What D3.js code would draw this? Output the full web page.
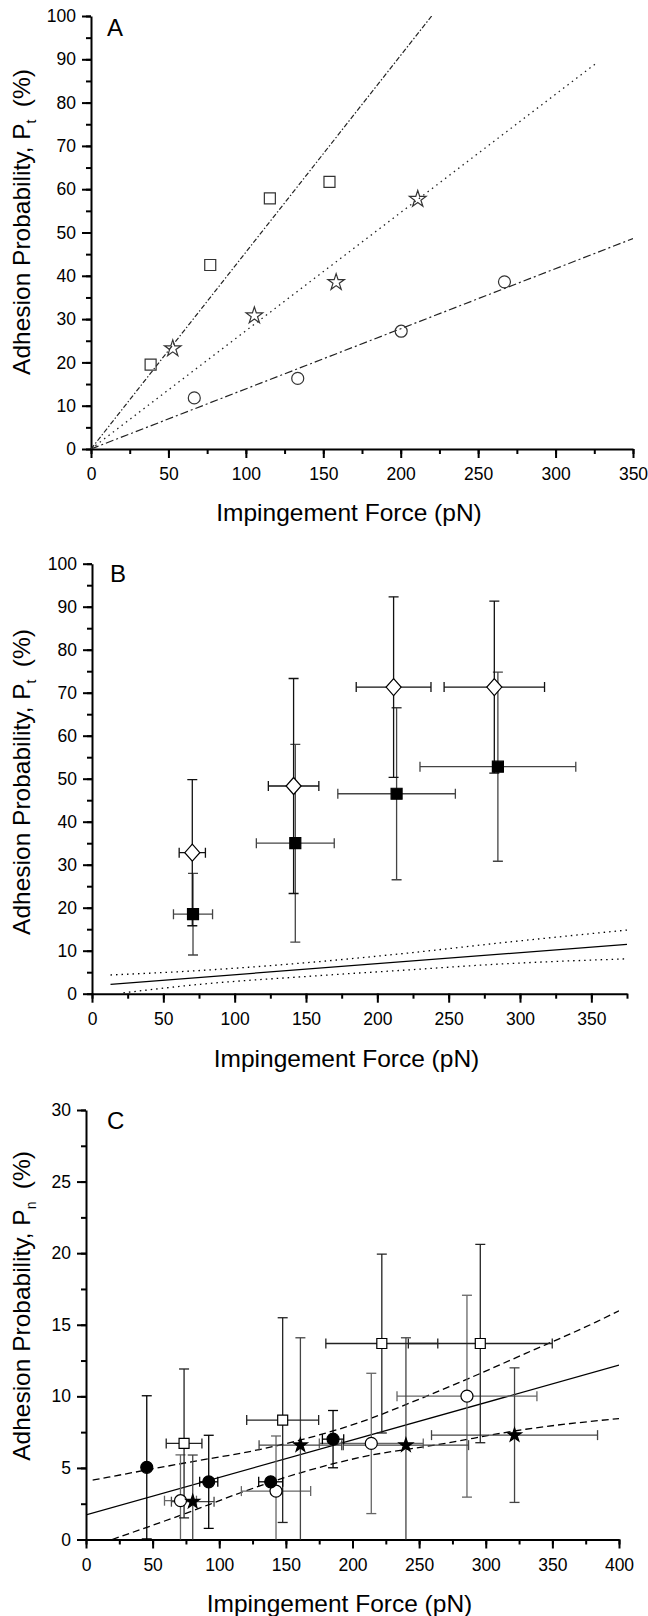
<!DOCTYPE html>
<html>
<head>
<meta charset="utf-8">
<script src="https://cdn.jsdelivr.net/npm/d3@7"></script>
<style>
  body { margin: 0; background: #fff; }
  svg { display: block; }
  text { font-family: "Liberation Sans", Arial, sans-serif; }
</style>
</head>
<body>
<svg id="fig" width="648" height="1616"></svg>
<script>
// ---------- data: panel A ----------
const aSquareX = [38.5, 77, 115.5, 154];
const aSquareY = [19.5, 42.5, 57.9, 61.7];
const aStarX = [52.8, 105.5, 158.3, 211];
const aStarY = [23.2, 30.8, 38.5, 57.7];
const aCircleX = [66.7, 133.5, 200.3, 267];
const aCircleY = [11.8, 16.3, 27.2, 38.6];
const aFitSquares = [[0, 0], [220, 100]];
const aFitStars = [[0, 0], [327, 89.3]];
const aFitCircles = [[0, 0], [350, 48.6]];

// ---------- data: panel B ----------
const bDiamondX = [70.3, 141.3, 211.4, 282];
const bDiamondY = [32.8, 48.3, 71.3, 71.3];
const bDiamondXErr = [9.2, 17.7, 26.2, 35.2];
const bDiamondYErr = [17, 25, 21, 20];
const bSquareX = [70.8, 142.5, 213.5, 284.5];
const bSquareY = [18.5, 35, 46.5, 52.8];
const bSquareXErr = [13.7, 27.3, 41.2, 54.6];
const bSquareYErr = [9.5, 23, 20, 22];
const bFit = [[13, 2.19], [375, 11.46]];
const bUpper = [[13, 4.35], [76, 5.4], [150, 7.2], [220, 9.4], [286, 11.8], [375, 14.8]];
const bLower = [[22, 0.2], [76, 2.19], [150, 4.0], [220, 5.5], [286, 6.9], [375, 8.1]];

// ---------- data: panel C ----------
const cFilledX = [45.6, 92.1, 138.6, 185.4];
const cFilledY = [5.04, 4.03, 4.03, 7.01];
const cFilledXErr = [0, 6.8, 9, 8];
const cFilledYErr = [5.0, 3.25, 0, 2.0];
const cOpenCircleX = [70.9, 142.6, 214.1, 285.9];
const cOpenCircleY = [2.71, 3.38, 6.71, 10.01];
const cOpenCircleXErr = [12, 26, 39, 52.5];
const cOpenCircleYErr = [3.2, 3.85, 4.9, 7.05];
const cSquareX = [73.6, 147.6, 222, 295.9];
const cSquareY = [6.71, 8.34, 13.69, 13.69];
const cSquareXErr = [13.4, 27, 42, 54];
const cSquareYErr = [5.2, 7.15, 6.25, 6.93];
const cStarX = [80.1, 160.9, 240.1, 321.6];
const cStarY = [2.64, 6.59, 6.59, 7.29];
const cStarXErr = [16, 31, 47, 62.3];
const cStarYErr = [3.26, 7.5, 7.5, 4.7];
const cFit = [[0, 1.72], [400, 12.18]];
const cUpper = [[5, 4.15], [75, 5.36], [131, 6.3], [175, 7.3], [206, 8.2], [250, 9.8], [281, 11.0], [330, 13.0], [383, 15.2], [400, 15.97]];
const cLower = [[19.6, 0], [75, 1.83], [117, 3.3], [150, 4.35], [206, 5.74], [266, 6.66], [330, 7.7], [400, 8.45]];

const svg = d3.select("#fig");
const tickFont = 17.5;
const titleFont = 24.5;

// =============================== //
// -->      panel frame       <--  //
// =============================== //
function drawPanel({ id, left, right, top, bottom, xMax, yMax, xMajor, xMinor, yMajor, yMinor, letter, letterPos, sub, yLabelY, xLabelY }) {
  const x = d3.scaleLinear().domain([0, xMax]).range([left, right]);
  const y = d3.scaleLinear().domain([0, yMax]).range([bottom, top]);

  svg.append("clipPath").attr("id", id)
    .append("rect").attr("x", left).attr("y", top).attr("width", right - left).attr("height", bottom - top);

  // minor ticks
  svg.append("g").attr("transform", `translate(0,${bottom})`)
    .call(d3.axisBottom(x).tickValues(d3.range(0, xMax + 0.01, xMinor)).tickSize(5).tickFormat(""))
    .call((g) => g.select(".domain").remove())
    .call((g) => g.selectAll("line").attr("stroke-width", 2));
  svg.append("g").attr("transform", `translate(${left},0)`)
    .call(d3.axisLeft(y).tickValues(d3.range(0, yMax + 0.01, yMinor)).tickSize(5).tickFormat(""))
    .call((g) => g.select(".domain").remove())
    .call((g) => g.selectAll("line").attr("stroke-width", 2));

  // major ticks + labels
  svg.append("g").attr("transform", `translate(0,${bottom})`)
    .call(d3.axisBottom(x).tickValues(d3.range(0, xMax + 0.01, xMajor)).tickSize(9).tickSizeOuter(0).tickPadding(10))
    .call((g) => g.selectAll("line, path").attr("stroke-width", 2))
    .call((g) => g.selectAll("text").attr("font-size", tickFont).attr("font-family", "Liberation Sans, Arial, sans-serif"));
  svg.append("g").attr("transform", `translate(${left},0)`)
    .call(d3.axisLeft(y).tickValues(d3.range(0, yMax + 0.01, yMajor)).tickSize(9).tickSizeOuter(0).tickPadding(6))
    .call((g) => g.selectAll("line, path").attr("stroke-width", 2))
    .call((g) => g.selectAll("text").attr("font-size", tickFont).attr("font-family", "Liberation Sans, Arial, sans-serif"));

  // panel letter
  svg.append("text")
    .attr("x", letterPos[0]).attr("y", letterPos[1])
    .attr("font-family", "Liberation Serif, Times New Roman, serif")
    .attr("font-size", 24)
    .text(letter);

  // axis titles
  svg.append("text")
    .attr("x", (left + right) / 2 - 13).attr("y", xLabelY)
    .attr("text-anchor", "middle").attr("font-size", titleFont)
    .text("Impingement Force (pN)");

  const yl = svg.append("text")
    .attr("transform", `translate(30,${yLabelY}) rotate(-90)`)
    .attr("text-anchor", "middle").attr("font-size", titleFont);
  yl.append("tspan").text("Adhesion Probability, P");
  yl.append("tspan").attr("font-size", 14).attr("dy", 6).text(sub);
  yl.append("tspan").attr("dy", -6).text("\u2002(%)");

  const plot = svg.append("g").attr("clip-path", `url(#${id})`);
  return { x, y, plot };
}

function lineOf(x, y, curve) {
  return d3.line().x((d) => x(d[0])).y((d) => y(d[1])).curve(curve || d3.curveLinear);
}

function errorBars(g, x, y, xs, ys, xerr, yerr, color, cap) {
  xs.forEach((xv, i) => {
    const px = x(xv), py = y(ys[i]);
    if (yerr[i] > 0) {
      const y0 = y(ys[i] - yerr[i]), y1 = y(ys[i] + yerr[i]);
      g.append("line").attr("x1", px).attr("x2", px).attr("y1", y0).attr("y2", y1).attr("stroke", color).attr("stroke-width", 1.3);
      [y0, y1].forEach((yy) =>
        g.append("line").attr("x1", px - cap).attr("x2", px + cap).attr("y1", yy).attr("y2", yy).attr("stroke", color).attr("stroke-width", 1.3));
    }
    if (xerr[i] > 0) {
      const x0 = x(xv - xerr[i]), x1 = x(xv + xerr[i]);
      g.append("line").attr("x1", x0).attr("x2", x1).attr("y1", py).attr("y2", py).attr("stroke", color).attr("stroke-width", 1.3);
      [x0, x1].forEach((xx) =>
        g.append("line").attr("x1", xx).attr("x2", xx).attr("y1", py - cap).attr("y2", py + cap).attr("stroke", color).attr("stroke-width", 1.3));
    }
  });
}

function markers(g, x, y, xs, ys, pathD, fill, stroke) {
  g.selectAll(null)
    .data(xs.map((d, i) => [d, ys[i]]))
    .join("path")
    .attr("d", pathD)
    .attr("transform", (d) => `translate(${x(d[0])},${y(d[1])})`)
    .attr("fill", fill)
    .attr("stroke", stroke)
    .attr("stroke-width", 1.2);
}

const diamondPath = "M0,-8.5L7.5,0L0,8.5L-7.5,0Z";

// =============================== //
// -->         Panel A        <--  //
// =============================== //
{
  const { x, y, plot } = drawPanel({
    id: "clipA", left: 91, right: 633, top: 16, bottom: 449,
    xMax: 350, yMax: 100, xMajor: 50, xMinor: 25, yMajor: 10, yMinor: 5,
    letter: "A", letterPos: [107, 36], sub: "t", yLabelY: 222, xLabelY: 521
  });
  plot.append("path").attr("d", lineOf(x, y)(aFitSquares)).attr("fill", "none").attr("stroke", "#222").attr("stroke-width", 1.2).attr("stroke-dasharray", "5,2,1.5,2");
  plot.append("path").attr("d", lineOf(x, y)(aFitStars)).attr("fill", "none").attr("stroke", "#222").attr("stroke-width", 1.3).attr("stroke-dasharray", "1.5,4");
  plot.append("path").attr("d", lineOf(x, y)(aFitCircles)).attr("fill", "none").attr("stroke", "#222").attr("stroke-width", 1.2).attr("stroke-dasharray", "8,3,2,3");

  markers(plot, x, y, aSquareX, aSquareY, d3.symbol().type(d3.symbolSquare).size(121)(), "none", "#333");
  markers(plot, x, y, aStarX, aStarY, d3.symbol().type(d3.symbolStar).size(85)(), "none", "#333");
  markers(plot, x, y, aCircleX, aCircleY, d3.symbol().type(d3.symbolCircle).size(Math.PI * 36)(), "none", "#333");
}

// =============================== //
// -->         Panel B        <--  //
// =============================== //
{
  const { x, y, plot } = drawPanel({
    id: "clipB", left: 92, right: 627, top: 563.7, bottom: 993.7,
    xMax: 375, yMax: 100, xMajor: 50, xMinor: 25, yMajor: 10, yMinor: 5,
    letter: "B", letterPos: [110, 582], sub: "t", yLabelY: 782, xLabelY: 1067
  });
  plot.append("path").attr("d", lineOf(x, y)(bFit)).attr("fill", "none").attr("stroke", "#000").attr("stroke-width", 1.2);
  plot.append("path").attr("d", lineOf(x, y, d3.curveMonotoneX)(bUpper)).attr("fill", "none").attr("stroke", "#000").attr("stroke-width", 1.3).attr("stroke-dasharray", "1.5,4");
  plot.append("path").attr("d", lineOf(x, y, d3.curveMonotoneX)(bLower)).attr("fill", "none").attr("stroke", "#000").attr("stroke-width", 1.3).attr("stroke-dasharray", "1.5,4");

  errorBars(plot, x, y, bSquareX, bSquareY, bSquareXErr, bSquareYErr, "#444", 5);
  errorBars(plot, x, y, bDiamondX, bDiamondY, bDiamondXErr, bDiamondYErr, "#111", 5);
  markers(plot, x, y, bSquareX, bSquareY, d3.symbol().type(d3.symbolSquare).size(121)(), "#000", "#000");
  markers(plot, x, y, bDiamondX, bDiamondY, diamondPath, "#fff", "#000");
}

// =============================== //
// -->         Panel C        <--  //
// =============================== //
{
  const { x, y, plot } = drawPanel({
    id: "clipC", left: 86, right: 619, top: 1110, bottom: 1539.5,
    xMax: 400, yMax: 30, xMajor: 50, xMinor: 25, yMajor: 5, yMinor: 2.5,
    letter: "C", letterPos: [107, 1129], sub: "n", yLabelY: 1306, xLabelY: 1612
  });
  plot.append("path").attr("d", lineOf(x, y)(cFit)).attr("fill", "none").attr("stroke", "#000").attr("stroke-width", 1.3);
  plot.append("path").attr("d", lineOf(x, y, d3.curveMonotoneX)(cUpper)).attr("fill", "none").attr("stroke", "#000").attr("stroke-width", 1.3).attr("stroke-dasharray", "7,4");
  plot.append("path").attr("d", lineOf(x, y, d3.curveMonotoneX)(cLower)).attr("fill", "none").attr("stroke", "#000").attr("stroke-width", 1.3).attr("stroke-dasharray", "7,4");

  errorBars(plot, x, y, cOpenCircleX, cOpenCircleY, cOpenCircleXErr, cOpenCircleYErr, "#666", 5);
  errorBars(plot, x, y, cStarX, cStarY, cStarXErr, cStarYErr, "#444", 5);
  errorBars(plot, x, y, cSquareX, cSquareY, cSquareXErr, cSquareYErr, "#222", 5);
  errorBars(plot, x, y, cFilledX, cFilledY, cFilledXErr, cFilledYErr, "#000", 5);

  markers(plot, x, y, cOpenCircleX, cOpenCircleY, d3.symbol().type(d3.symbolCircle).size(Math.PI * 36)(), "#fff", "#000");
  markers(plot, x, y, cSquareX, cSquareY, d3.symbol().type(d3.symbolSquare).size(100)(), "#fff", "#000");
  markers(plot, x, y, cFilledX, cFilledY, d3.symbol().type(d3.symbolCircle).size(Math.PI * 36)(), "#000", "#000");
  markers(plot, x, y, cStarX, cStarY, d3.symbol().type(d3.symbolStar).size(60)(), "#000", "#000");
}
</script>
</body>
</html>
